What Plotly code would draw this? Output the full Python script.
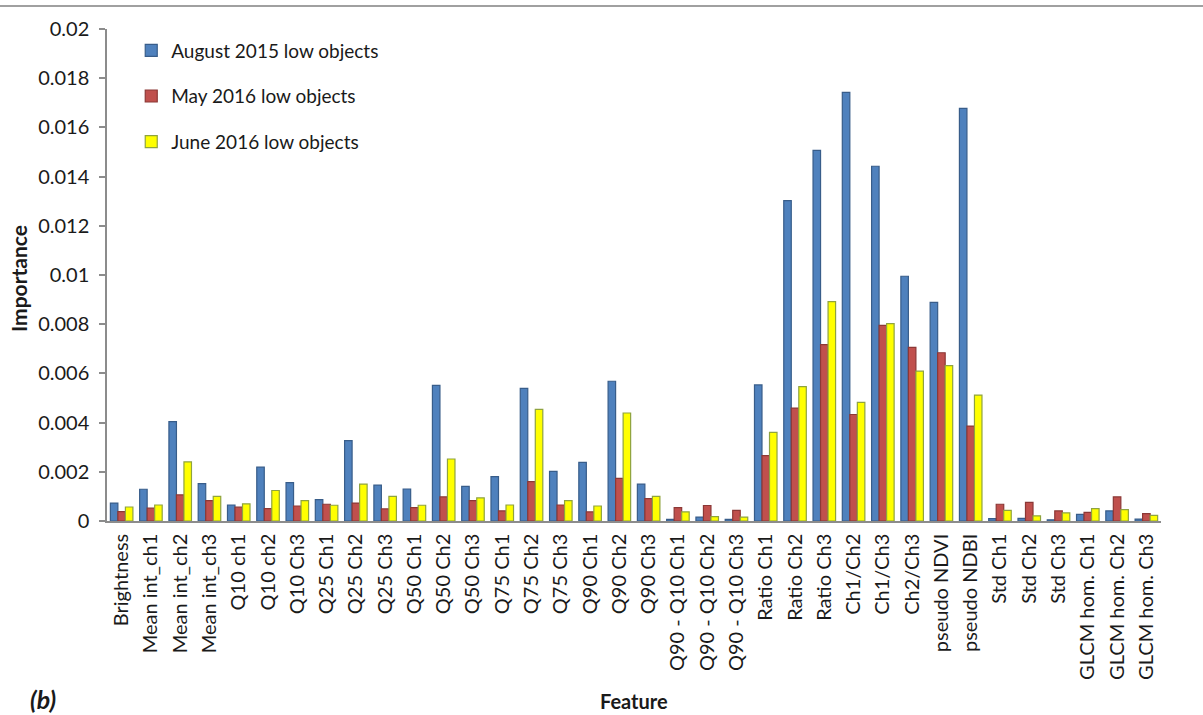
import plotly.graph_objects as go

features = [
    "Brightness", "Mean int_ch1", "Mean int_ch2", "Mean int_ch3",
    "Q10 ch1", "Q10 ch2", "Q10 Ch3", "Q25 Ch1", "Q25 Ch2", "Q25 Ch3",
    "Q50 Ch1", "Q50 Ch2", "Q50 Ch3", "Q75 Ch1", "Q75 Ch2", "Q75 Ch3",
    "Q90 Ch1", "Q90 Ch2", "Q90 Ch3", "Q90 - Q10 Ch1", "Q90 - Q10 Ch2",
    "Q90 - Q10 Ch3", "Ratio Ch1", "Ratio Ch2", "Ratio Ch3", "Ch1/Ch2",
    "Ch1/Ch3", "Ch2/Ch3", "pseudo NDVI", "pseudo NDBI", "Std Ch1",
    "Std Ch2", "Std Ch3", "GLCM hom. Ch1", "GLCM hom. Ch2", "GLCM hom. Ch3",
]

aug_2015 = [
    0.00073, 0.00129, 0.00404, 0.00152, 0.00065, 0.00219, 0.00156, 0.00087,
    0.00327, 0.00146, 0.00130, 0.00551, 0.00141, 0.00180, 0.00539, 0.00202,
    0.00238, 0.00568, 0.00150, 0.00007, 0.00016, 0.00007, 0.00553, 0.01302,
    0.01507, 0.01742, 0.01442, 0.00995, 0.00889, 0.01677, 0.00010, 0.00011,
    0.00005, 0.00027, 0.00041, 0.00008,
]

may_2016 = [
    0.00038, 0.00052, 0.00106, 0.00083, 0.00056, 0.00050, 0.00061, 0.00068,
    0.00073, 0.00049, 0.00054, 0.00098, 0.00083, 0.00041, 0.00160, 0.00065,
    0.00037, 0.00173, 0.00091, 0.00054, 0.00063, 0.00043, 0.00266, 0.00459,
    0.00717, 0.00433, 0.00795, 0.00706, 0.00684, 0.00386, 0.00068, 0.00076,
    0.00041, 0.00035, 0.00098, 0.00030,
]

june_2016 = [
    0.00057, 0.00065, 0.00240, 0.00100, 0.00070, 0.00124, 0.00083, 0.00064,
    0.00150, 0.00100, 0.00064, 0.00252, 0.00094, 0.00065, 0.00454, 0.00083,
    0.00061, 0.00439, 0.00100, 0.00037, 0.00018, 0.00016, 0.00360, 0.00546,
    0.00892, 0.00482, 0.00802, 0.00609, 0.00632, 0.00512, 0.00043, 0.00021,
    0.00033, 0.00050, 0.00046, 0.00023,
]

y_ticks = [0, 0.002, 0.004, 0.006, 0.008, 0.01, 0.012, 0.014, 0.016, 0.018, 0.02]
y_tick_text = ["0", "0.002", "0.004", "0.006", "0.008", "0.01", "0.012",
               "0.014", "0.016", "0.018", "0.02"]

series = [
    ("August 2015 low objects", aug_2015, "#4F81BD", "#385D8A"),
    ("May 2016 low objects", may_2016, "#C0504D", "#8C3836"),
    ("June 2016 low objects", june_2016, "#FFFF00", "#8FA33F"),
]

FONT = "Lato, 'Open Sans', sans-serif"
TEXT = "#1a1a1a"

fig = go.Figure()
for i, (name, vals, fill, edge) in enumerate(series):
    fig.add_trace(go.Bar(
        name=name, x=features, y=vals,
        marker=dict(color=fill, line=dict(color=edge, width=1.2)),
        legendgroup=f"g{i}",
    ))

fig.update_layout(
    width=1203, height=715,
    barmode="group", bargap=0.23, bargroupgap=0.0,
    plot_bgcolor="white", paper_bgcolor="white",
    margin=dict(l=107, r=42, t=29, b=194),
    font=dict(family=FONT, color=TEXT),
    showlegend=True,
    legend=dict(
        x=0.023, y=0.995, xanchor="left", yanchor="top",
        font=dict(size=19, family=FONT, color=TEXT),
        bgcolor="rgba(0,0,0,0)", tracegroupgap=18,
        itemwidth=30,
    ),
    xaxis=dict(
        showline=True, linecolor="#8c8c8c", linewidth=1.5,
        ticks="", tickangle=-90, tickfont=dict(size=20, family=FONT, color=TEXT),
        ticklabelstandoff=3,
        showgrid=False, zeroline=False,
    ),
    yaxis=dict(
        range=[0, 0.02], tickvals=y_ticks, ticktext=y_tick_text,
        showline=True, linecolor="#8c8c8c", linewidth=1.5,
        ticks="outside", ticklen=6, tickcolor="#8c8c8c", tickwidth=1.5,
        tickfont=dict(size=20, family=FONT, color=TEXT),
        ticklabelstandoff=6,
        showgrid=False, zeroline=False,
    ),
    shapes=[dict(
        type="line", xref="paper", yref="paper",
        x0=-0.2, x1=1.2, y0=1 + 23 / 492, y1=1 + 23 / 492,
        line=dict(color="#a0a0a0", width=2),
    )],
    annotations=[
        dict(text="<b>Importance</b>", xref="paper", yref="paper",
             x=(18 - 107) / 1054, y=(521 - 279) / 492, textangle=-90,
             showarrow=False, font=dict(size=21, family=FONT, color=TEXT),
             xanchor="center", yanchor="middle"),
        dict(text="<b>Feature</b>", xref="paper", yref="paper",
             x=(634 - 107) / 1054, y=-(701 - 521) / 492,
             showarrow=False, font=dict(size=20, family=FONT, color=TEXT),
             xanchor="center", yanchor="middle"),
        dict(text="<b><i>(b)</i></b>", xref="paper", yref="paper",
             x=(43 - 107) / 1054, y=-(699 - 521) / 492,
             showarrow=False, font=dict(size=25, family=FONT, color=TEXT),
             xanchor="center", yanchor="middle"),
    ],
)

fig.write_html("out.html")
